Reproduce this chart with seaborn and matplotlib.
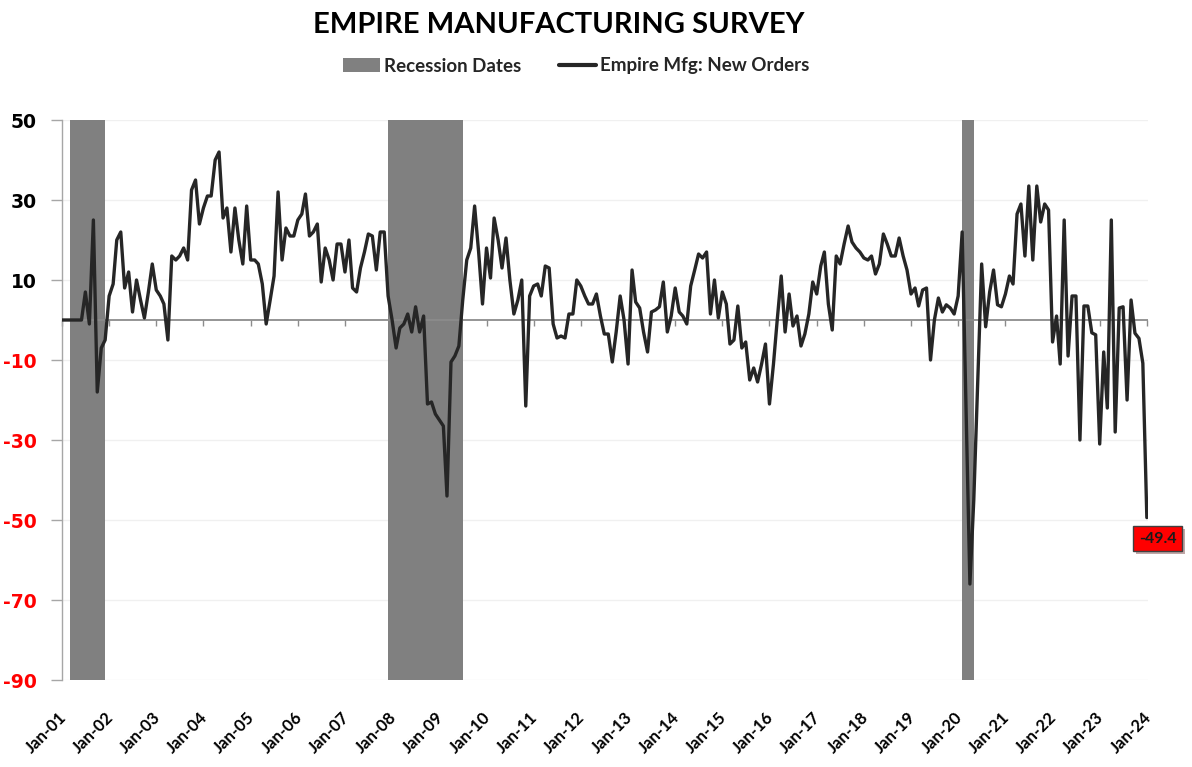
import numpy as np
import pandas as pd
import matplotlib
matplotlib.use("Agg")
import matplotlib.pyplot as plt
import matplotlib.dates as mdates
import matplotlib.patheffects as pe
from matplotlib.patches import Patch
from matplotlib.lines import Line2D
from matplotlib.transforms import ScaledTranslation
import seaborn as sns

# ---------------- data (monthly, Jan-2001 .. Jan-2024) ----------------
start_month = "2001-01-01"
orders_2001_2003 = [0, 0, 0, 0, 0, 0, 7, -1, 25, -18, -7, -5,
                    6, 9, 20, 22, 8, 12, 2, 10, 5, 0.5, 7, 14,
                    7.5, 6, 4, -5, 16, 15, 16, 18, 15, 32.5, 35, 24]
orders_2004_2006 = [28, 31, 31, 40, 42, 25.5, 28, 17, 28, 20, 14, 28.5,
                    15, 15, 14, 9, -1, 5, 11, 32, 15, 23, 21, 21,
                    25, 26.5, 31.5, 21, 22, 24, 9.5, 18, 15, 10, 19, 19]
orders_2007_2009 = [12, 20, 8, 7, 13, 17, 21.5, 21, 12.5, 22, 22, 6,
                    0, -7, -2, -1, 1.5, -3, 3.3, -3, 1, -21, -20.5, -23.5,
                    -25, -26.5, -44, -10.5, -9, -6.5, 5, 15, 18, 28.5, 17, 4]
orders_2010_2012 = [18, 10.5, 25.5, 20, 13, 20.5, 10, 1.5, 5, 10, -21.5, 6,
                    8.5, 9, 6, 13.5, 13, -1, -4.5, -4, -4.5, 1.5, 1.5, 10,
                    8.5, 6, 4, 4, 6.5, 1, -3.5, -3.5, -10.5, -3, 6, 0]
orders_2013_2015 = [-11, 12.5, 4.5, 3, -3, -8, 2, 2.5, 3.3, 9.5, -3, 1,
                    8, 2, 1, -1, 8.5, 12.5, 16.5, 15.5, 17, 1.5, 10, 0.5,
                    7, 4, -6, -5, 3.5, -7, -5.5, -15, -12, -15.5, -11, -6]
orders_2016_2018 = [-21, -11, 0, 11, -3, 6.5, -1.5, 1, -6.5, -3.5, 1.5, 9.5,
                    6.5, 13.5, 17, 4, -2.5, 16, 14, 19, 23.5, 19.5, 18, 17,
                    15.5, 15, 16, 11.5, 14, 21.5, 19, 16, 16, 20.5, 16, 12.5]
orders_2019_2021 = [6.5, 8, 3.5, 7.5, 8, -10, 0, 5.5, 2, 3.8, 3, 1.5,
                    6, 22, -21, -66, -45, -15, 14, -1.7, 7, 12.5, 3.8, 3.3,
                    6.5, 11, 9, 26.5, 29, 16, 33.5, 15, 33.5, 24.5, 29, 27.5]
orders_2022_2024 = [-5.5, 1, -11, 25, -9, 6, 6, -30, 3.5, 3.5, -3.2, -3.7,
                    -31, -8, -22, 25, -28, 3, 3.3, -20, 5, -3.3, -4.6, -10.8,
                    -49.4]

recession_starts = ["2001-03-01", "2007-12-01", "2020-02-01"]
recession_ends = ["2001-11-30", "2009-06-30", "2020-04-30"]
y_ticks = [50, 30, 10, -10, -30, -50, -70, -90]
tick_years = list(range(2001, 2025))

values = (orders_2001_2003 + orders_2004_2006 + orders_2007_2009 + orders_2010_2012
          + orders_2013_2015 + orders_2016_2018 + orders_2019_2021 + orders_2022_2024)
dates = pd.date_range(start_month, periods=len(values), freq="MS")
df = pd.DataFrame({"date": dates, "value": values})

# ---------------- style ----------------
sns.set_theme(style="white")
plt.rcParams["font.family"] = ["Lato", "DejaVu Sans"]

W, H = 1192, 767
fig = plt.figure(figsize=(W / 100, H / 100), dpi=100)
left, right, top, bottom = 62, 1148, 120, 680
ax = fig.add_axes([left / W, 1 - bottom / H, (right - left) / W, (bottom - top) / H])

# recession shading
for s, e in zip(recession_starts, recession_ends):
    ax.axvspan(pd.Timestamp(s), pd.Timestamp(e), color="#808080", lw=0, zorder=1)

# zero line
ax.axhline(0, color="#8c8c8c", lw=1.3, zorder=1.5)

# series
sns.lineplot(data=df, x="date", y="value", color="#262626", lw=2.4, ax=ax, zorder=3)

ax.set_ylim(-90, 50)
ax.set_xlim(pd.Timestamp("2001-01-01"), pd.Timestamp("2024-01-10"))
ax.set_xlabel("")
ax.set_ylabel("")

# y axis
ax.set_yticks(y_ticks)
ax.set_yticklabels([str(v) for v in y_ticks])
ax.yaxis.grid(True, color="#f0f0f0", lw=1)
ax.set_axisbelow(True)
ax.tick_params(axis="y", which="major", left=True, length=8, width=1, color="#a6a6a6",
               direction="out", pad=10)
for lbl, v in zip(ax.get_yticklabels(), y_ticks):
    lbl.set_fontfamily("DejaVu Sans")
    lbl.set_fontweight("bold")
    lbl.set_fontsize(13.5)
    lbl.set_color("red" if v < 0 else "black")

for sp in ["top", "right", "bottom"]:
    ax.spines[sp].set_visible(False)
ax.spines["left"].set_color("#a6a6a6")
ax.spines["left"].set_linewidth(1)

# x tick labels at bottom
tick_dates = [pd.Timestamp(f"{y}-01-01") for y in tick_years]
ax.set_xticks(tick_dates)
ax.xaxis.set_major_formatter(mdates.DateFormatter("%b-%y"))
ax.tick_params(axis="x", bottom=True, length=0, pad=21)
for lbl in ax.get_xticklabels():
    lbl.set_rotation(45)
    lbl.set_ha("right")
    lbl.set_va("top")
    lbl.set_rotation_mode("anchor")
    lbl.set_fontweight("bold")
    lbl.set_fontsize(12)
    lbl.set_color("black")
    lbl.set_transform(lbl.get_transform() + ScaledTranslation(-4 / 100, 0, fig.dpi_scale_trans))

# small tick marks on the zero line
zero_frac = (0 - (-90)) / (50 - (-90))
sec = ax.secondary_xaxis(zero_frac)
sec.set_xticks(tick_dates)
sec.xaxis.set_ticks_position("bottom")
sec.tick_params(axis="x", direction="out", length=4, width=1, color="#8c8c8c",
                labelbottom=False, labeltop=False)
for sp in sec.spines.values():
    sp.set_visible(False)

# last value callout
ann = ax.annotate(f"{values[-1]:.1f}", xy=(dates[-1], values[-1]), xytext=(11, -21),
                  textcoords="offset pixels", ha="center", va="center",
                  fontsize=11.5, fontweight="bold", color="#1a1a1a", zorder=5,
                  bbox=dict(boxstyle="square,pad=0.35", fc="#ff0000", ec="#404040", lw=1))
ann.get_bbox_patch().set_path_effects([pe.withSimplePatchShadow(offset=(2, -2), alpha=0.35)])

# title
fig.text(558.5 / W, 1 - 25 / H, "EMPIRE MANUFACTURING SURVEY", ha="center", va="center",
         fontsize=21, fontweight="bold", color="black")

# legend
handles = [Patch(facecolor="#808080", edgecolor="none"),
           Line2D([0], [0], color="#262626", lw=3)]
leg = fig.legend(handles, ["Recession Dates", "Empire Mfg: New Orders"],
                 loc="center", bbox_to_anchor=(576 / W, 1 - 66 / H), ncol=2, frameon=False,
                 prop={"weight": "bold", "size": 13.5}, handlelength=2.0, handleheight=0.8,
                 handletextpad=0.2, columnspacing=2.0)

fig.savefig("out.png", dpi=100, facecolor="white")
